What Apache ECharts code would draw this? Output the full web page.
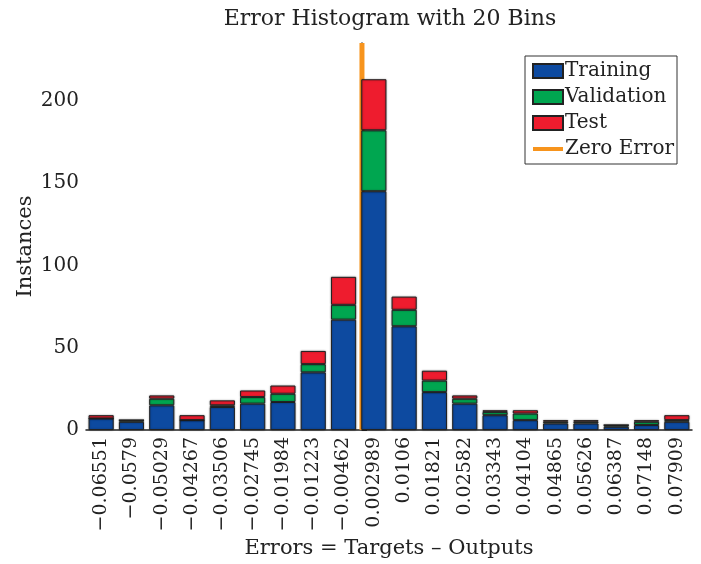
<!DOCTYPE html>
<html>
<head>
<meta charset="utf-8">
<script src="https://cdn.jsdelivr.net/npm/echarts@6/dist/echarts.min.js"></script>
<style>html,body{margin:0;padding:0;background:#fff}#c{width:701px;height:564px}</style>
</head>
<body>
<div id="c"></div>
<script>
const binLabels = ['\u22120.06551','\u22120.0579','\u22120.05029','\u22120.04267','\u22120.03506','\u22120.02745','\u22120.01984','\u22120.01223','\u22120.00462','0.002989','0.0106','0.01821','0.02582','0.03343','0.04104','0.04865','0.05626','0.06387','0.07148','0.07909'];
const binCenters = [-0.06551,-0.0579,-0.05029,-0.04267,-0.03506,-0.02745,-0.01984,-0.01223,-0.00462,0.002989,0.0106,0.01821,0.02582,0.03343,0.04104,0.04865,0.05626,0.06387,0.07148,0.07909];
const training   = [7,5,15,6,14,16,17,35,67,145,63,23,16,9,6,4,4,2,3,5];
const validation = [0,1,4,0,1,4,5,5,9,37,10,7,3,2,4,1,1,1,2,1];
const test       = [2,0,2,3,3,4,5,8,17,31,8,6,2,1,2,1,1,0,1,3];
const yTicks = [0,50,100,150,200];
const zeroError = 0;
const yMax = 235;

const FONT = 'DejaVu Serif';
const halfStep = (binCenters[binCenters.length-1]-binCenters[0])/(binCenters.length-1)/2;
const chart = echarts.init(document.getElementById('c'), null, {renderer:'canvas'});
const barStyle = (c) => ({color:c, borderColor:'#222', borderWidth:1, shadowColor:'rgba(0,0,0,0.35)', shadowBlur:2});
chart.setOption({
  animation:false,
  textStyle:{fontFamily:FONT},
  title:{text:'Error Histogram with 20 Bins', left:390, textAlign:'center', top:8, padding:0,
    textStyle:{fontFamily:FONT, fontSize:22, fontWeight:'normal', color:'#222'}},
  grid:{left:86, right:9, top:43, bottom:131, containLabel:false},
  legend:{
    orient:'vertical', left:525, top:56, padding:[4,3,4,7], itemGap:4,
    itemWidth:30, itemHeight:14, borderColor:'#333', borderWidth:1, backgroundColor:'#fff',
    textStyle:{fontFamily:FONT, fontSize:20, color:'#222', padding:[0,0,0,-3], lineHeight:22},
    data:[
      {name:'Training', icon:'rect'},
      {name:'Validation', icon:'rect'},
      {name:'Test', icon:'rect'},
      {name:'Zero Error', icon:'path://M0,0 L0.01,0 M0,14 L0.01,14 M0,5 L30,5 L30,9 L0,9 Z',
        itemStyle:{color:'#f7941d', borderWidth:0}}
    ]
  },
  xAxis:[{
    type:'category', data:binLabels,
    axisLine:{lineStyle:{color:'#222', width:1.5}},
    axisTick:{show:false},
    axisLabel:{rotate:90, fontFamily:FONT, fontSize:19, color:'#222', margin:7},
    name:'Errors = Targets \u2013 Outputs', nameLocation:'middle', nameGap:108, nameMoveOverlap:false,
    nameTextStyle:{fontFamily:FONT, fontSize:21, color:'#222'}
  },{
    type:'value', min:binCenters[0]-halfStep, max:binCenters[binCenters.length-1]+halfStep,
    show:false
  }],
  yAxis:{
    type:'value', min:0, max:yMax, interval:50,
    axisLine:{show:true, lineStyle:{color:'#222', width:1.5}},
    axisTick:{show:true, inside:true, length:5, lineStyle:{color:'#222'}, customValues:yTicks},
    splitLine:{show:false},
    axisLabel:{fontFamily:FONT, fontSize:20, color:'#222', margin:7, customValues:yTicks},
    name:'Instances', nameLocation:'middle', nameGap:50, nameMoveOverlap:false,
    nameTextStyle:{fontFamily:FONT, fontSize:21, color:'#222', padding:[0,20,0,0]}
  },
  series:[
    {name:'Training', type:'bar', stack:'s', barCategoryGap:'17%', data:training, itemStyle:barStyle('#0d4aa0')},
    {name:'Validation', type:'bar', stack:'s', data:validation, itemStyle:barStyle('#00a650')},
    {name:'Test', type:'bar', stack:'s', data:test, itemStyle:barStyle('#ee1c2e')},
    {name:'Zero Error', type:'line', xAxisIndex:1, symbol:'none', silent:true,
      lineStyle:{color:'#f7941d', width:5}, itemStyle:{color:'#f7941d'},
      data:[[zeroError,0],[zeroError,yMax]], z:1}
  ]
});
</script>
</body>
</html>
